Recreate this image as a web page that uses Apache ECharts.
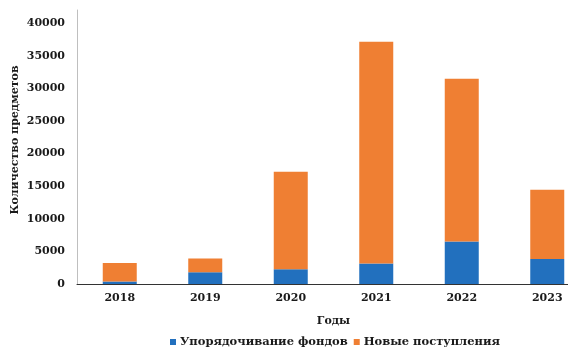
<!DOCTYPE html>
<html>
<head>
<meta charset="utf-8">
<script src="https://cdn.jsdelivr.net/npm/echarts@6/dist/echarts.min.js"></script>
<style>
  html, body { margin: 0; padding: 0; background: #fff; }
  #chart { width: 568px; height: 349px; }
</style>
</head>
<body>
<div id="chart"></div>
<script>
// Years on the category axis
const years = ['2018', '2019', '2020', '2021', '2022', '2023'];
// Items processed while ordering existing holdings
const orderedHoldings = [400, 1800, 2250, 3150, 6500, 3850];
// Items received as new acquisitions
const newArrivals = [2800, 2100, 14950, 34000, 24950, 10600];

const seriesNames = ['Упорядочивание фондов', 'Новые поступления'];
const serif = '"DejaVu Serif", "Liberation Serif", serif';
const textStyle = { fontFamily: serif, fontWeight: 'bold', fontSize: 11, color: '#1a1a1a' };

const chart = echarts.init(document.getElementById('chart'), null, { renderer: 'canvas' });
chart.setOption({
  animation: false,
  backgroundColor: '#ffffff',
  // the plot runs on past the right edge of the canvas
  grid: { left: 77, width: 513, top: 10, height: 274, containLabel: false, outerBoundsMode: 'none' },
  legend: {
    data: seriesNames,
    left: 165,
    top: 331,
    itemWidth: 6,
    itemHeight: 6,
    itemGap: 6,
    icon: 'rect',
    textStyle: Object.assign({}, textStyle, { fontSize: 11.5, padding: [0, 0, 0, -1] })
  },
  xAxis: {
    type: 'category',
    data: years,
    name: 'Годы',
    nameLocation: 'middle',
    nameGap: 32,
    nameTextStyle: textStyle,
    axisLine: { lineStyle: { color: '#333333', width: 1 } },
    axisTick: { show: false },
    axisLabel: Object.assign({ margin: 9 }, textStyle)
  },
  yAxis: {
    type: 'value',
    min: 0,
    max: 42000,
    interval: 5000,
    name: 'Количество предметов',
    nameLocation: 'middle',
    nameGap: 56,
    nameMoveOverlap: false,
    nameRotate: 90,
    nameTextStyle: Object.assign({}, textStyle, { padding: [0, 0, 0, 14] }),
    splitLine: { show: false },
    axisTick: { show: false },
    axisLine: { show: true, lineStyle: { color: '#bfbfbf', width: 1 } },
    axisLabel: Object.assign({
      margin: 12,
      formatter: v => (v % 5000 === 0 ? String(v) : '')
    }, textStyle)
  },
  series: [
    {
      name: seriesNames[0],
      type: 'bar',
      stack: 'total',
      barWidth: 34,
      itemStyle: { color: '#2270be' },
      data: orderedHoldings
    },
    {
      name: seriesNames[1],
      type: 'bar',
      stack: 'total',
      barWidth: 34,
      itemStyle: { color: '#ef7f33' },
      data: newArrivals
    }
  ]
});
</script>
</body>
</html>
